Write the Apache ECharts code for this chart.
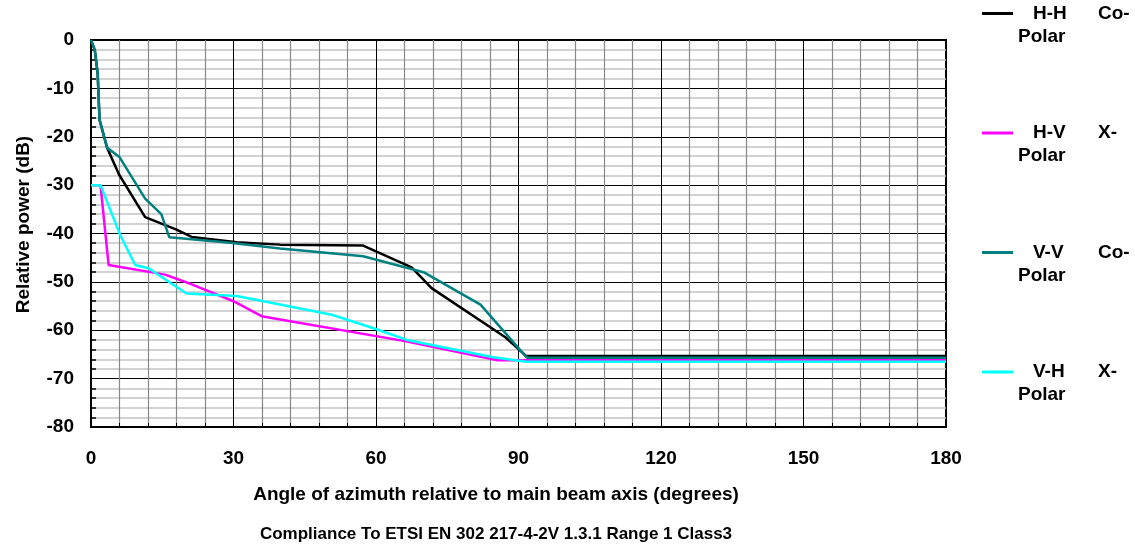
<!DOCTYPE html>
<html>
<head>
<meta charset="utf-8">
<script src="https://cdn.jsdelivr.net/npm/echarts@6/dist/echarts.min.js"></script>
<style>
  html, body { margin: 0; padding: 0; background: #fff; }
  #chart { width: 1135px; height: 549px; }
</style>
</head>
<body>
<div id="chart"></div>
<script>
// angle of azimuth (deg) / relative power (dB)
const hhDeg = [0, 0.8, 1.4, 1.8, 3.4, 5.9, 11.4, 18, 21.2, 30.7, 39.8, 57.3, 67.5, 71.7, 87.3, 91.6, 180];
const hhDb  = [0, -2.1, -6.9, -16.5, -22.3, -27.8, -36.6, -39.2, -40.7, -41.8, -42.3, -42.5, -47.0, -51.3, -61.5, -65.3, -65.3];

const hvDeg = [0, 2, 3.7, 15.6, 21.2, 30, 35.9, 65.8, 85.6, 180];
const hvDb  = [-30, -30, -46.5, -48.5, -50.5, -54.0, -57.1, -62.2, -66.2, -66.2];

const vvDeg = [0, 0.8, 1.4, 1.8, 3.4, 6, 11.4, 14.8, 16.5, 29.3, 39.8, 57.3, 70, 82, 91.8, 180];
const vvDb  = [0, -2.1, -6.9, -16.5, -22.3, -24.2, -32.8, -36.0, -40.8, -41.9, -43.1, -44.7, -48.0, -54.7, -65.7, -65.7];

const vhDeg = [0, 2, 6.1, 9.3, 12.1, 20.1, 30.7, 50.7, 60.1, 66.5, 84.7, 91.7, 180];
const vhDb  = [-30, -30, -40.2, -46.5, -47.2, -52.4, -52.9, -56.8, -59.8, -62.0, -65.6, -66.5, -66.5];

const seriesNames = ['H-H Co-Polar', 'H-V X-Polar', 'V-V Co-Polar', 'V-H X-Polar'];
const legendParts = {
  'H-H Co-Polar': ['H-H', 'Co-'],
  'H-V X-Polar': ['H-V', 'X-'],
  'V-V Co-Polar': ['V-V', 'Co-'],
  'V-H X-Polar': ['V-H', 'X-']
};

const FONT = '"Liberation Sans", Arial, sans-serif';

function zip(xs, ys) {
  return xs.map(function (x, i) { return [x, ys[i]]; });
}

let chart = echarts.init(document.getElementById('chart'));

let labelStyle = {
  color: '#000',
  fontSize: 19,
  fontWeight: 'bold',
  fontFamily: FONT
};

let option = {
  animation: false,
  backgroundColor: '#fff',
  grid: {
    left: 91,
    right: 189,
    top: 40,
    bottom: 122,
    show: true,
    borderColor: '#000',
    borderWidth: 2,
    outerBoundsMode: 'none'
  },
  legend: {
    data: seriesNames,
    orient: 'vertical',
    left: 982,
    top: -21,
    padding: 0,
    icon: 'rect',
    itemWidth: 31,
    itemHeight: 3,
    itemGap: 50.5,
    formatter: function (name) {
      let p = legendParts[name];
      // blank first line keeps the first text line level with the icon
      return '{e| }\n{p| }{a|' + p[0] + '}{s| }{b|' + p[1] + '}\n{c|Polar}';
    },
    textStyle: {
      color: '#000',
      fontSize: 19,
      fontWeight: 'bold',
      fontFamily: FONT,
      lineHeight: 23,
      rich: {
        e: { lineHeight: 23, fontSize: 19 },
        p: { width: 15, lineHeight: 23 },
        a: { width: 33, fontSize: 19, fontWeight: 'bold', fontFamily: FONT, lineHeight: 23 },
        s: { width: 32, lineHeight: 23 },
        b: { fontSize: 19, fontWeight: 'bold', fontFamily: FONT, lineHeight: 23 },
        c: { fontSize: 19, fontWeight: 'bold', fontFamily: FONT, lineHeight: 23 }
      }
    }
  },
  xAxis: {
    type: 'value',
    min: 0,
    max: 180,
    interval: 30,
    name: 'Angle of azimuth relative to main beam axis (degrees)',
    nameLocation: 'middle',
    nameGap: 58,
    nameTextStyle: {
      color: '#000',
      fontSize: 19,
      fontWeight: 'bold',
      fontFamily: FONT,
      padding: [0, 45, 0, 0]
    },
    axisLine: { onZero: false, lineStyle: { color: '#000', width: 2 } },
    axisTick: { show: true, inside: true, length: 4, lineStyle: { color: '#000' } },
    minorTick: { show: true, splitNumber: 5, length: 4, lineStyle: { color: '#000', width: 1 } },
    axisLabel: Object.assign({ margin: 22 }, labelStyle),
    splitLine: { show: true, lineStyle: { color: '#000', width: 1 } },
    minorSplitLine: { show: true, lineStyle: { color: '#888', width: 1.2 } }
  },
  yAxis: {
    type: 'value',
    min: -80,
    max: 0,
    interval: 10,
    name: 'Relative power (dB)',
    nameLocation: 'middle',
    nameRotate: 90,
    nameGap: 58,
    nameTextStyle: {
      color: '#000',
      fontSize: 19,
      fontWeight: 'bold',
      fontFamily: FONT,
      padding: [0, 0, 0, 18]
    },
    axisLine: { lineStyle: { color: '#000', width: 2 } },
    axisTick: { show: true, inside: true, length: 5, lineStyle: { color: '#000' } },
    minorTick: { show: true, splitNumber: 5, length: 5, lineStyle: { color: '#000', width: 1.5 } },
    axisLabel: Object.assign({ margin: 17 }, labelStyle),
    splitLine: { show: true, lineStyle: { color: '#000', width: 1 } },
    minorSplitLine: { show: true, lineStyle: { color: '#c4c4c4', width: 1.5 } }
  },
  graphic: [{
    type: 'text',
    x: 496,
    y: 534,
    style: {
      text: 'Compliance To ETSI EN 302 217-4-2V 1.3.1 Range 1 Class3',
      align: 'center',
      verticalAlign: 'middle',
      fill: '#000',
      font: 'bold 17px ' + FONT
    }
  }],
  series: [
    { name: seriesNames[0], type: 'line', symbol: 'none', color: '#000000',
      lineStyle: { width: 2.5 }, data: zip(hhDeg, hhDb) },
    { name: seriesNames[1], type: 'line', symbol: 'none', color: '#ff00ff',
      lineStyle: { width: 2.5 }, data: zip(hvDeg, hvDb) },
    { name: seriesNames[2], type: 'line', symbol: 'none', color: '#008080',
      lineStyle: { width: 2.5 }, data: zip(vvDeg, vvDb) },
    { name: seriesNames[3], type: 'line', symbol: 'none', color: '#00ffff',
      lineStyle: { width: 2.5 }, data: zip(vhDeg, vhDb) }
  ]
};

chart.setOption(option);
</script>
</body>
</html>
